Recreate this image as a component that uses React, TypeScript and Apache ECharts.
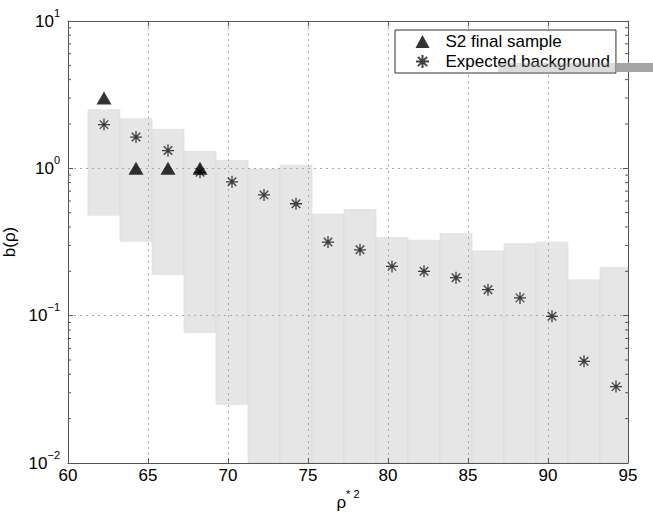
import React, { useEffect, useRef } from "react";
import * as echarts from "echarts";

// Bin centres (rho*^2) and the expected-background band per bin
const binCenters = [62.25, 64.25, 66.25, 68.25, 70.25, 72.25, 74.25, 76.25, 78.25, 80.25, 82.25, 84.25, 86.25, 88.25, 90.25, 92.25, 94.25];
const bandTop = [2.5, 2.17, 1.84, 1.3, 1.13, 0.99, 1.05, 0.49, 0.525, 0.339, 0.325, 0.36, 0.275, 0.308, 0.315, 0.175, 0.212];
const bandBottom = [0.48, 0.32, 0.19, 0.077, 0.025, 0.001, 0.001, 0.001, 0.001, 0.001, 0.001, 0.001, 0.001, 0.001, 0.001, 0.001, 0.001];
const expectedBackground = [1.98, 1.63, 1.32, 0.94, 0.81, 0.66, 0.575, 0.316, 0.28, 0.216, 0.2, 0.181, 0.15, 0.132, 0.099, 0.049, 0.033];
// S2 final sample
const sampleX = [62.25, 64.25, 66.25, 68.25];
const sampleY = [3, 1, 1, 1];
// Axis settings
const xMin = 60;
const xMax = 95;
const xStep = 5;
const yMin = 0.01;
const yMax = 10;
const binWidth = 2;
const minorTicks: number[] = [];
for (const dec of [0.01, 0.1, 1]) {
  for (let m = 2; m <= 9; m++) minorTicks.push(+(m * dec).toPrecision(3));
}

const FONT = "'Liberation Sans', Arial, Helvetica, sans-serif";
const AXIS = "#555555";
const GRIDC = "#a8a8a8";
const STAR = "path://M0,-10L0,10M-10,0L10,0M-7.07,-7.07L7.07,7.07M-7.07,7.07L7.07,-7.07";

export default function App() {
  const ref = useRef<HTMLDivElement>(null);
  useEffect(() => {
    if (!ref.current) return;
    const chart = echarts.init(ref.current, undefined, { renderer: "svg" });
    const expLabel = (v: number) => {
      const e = Math.round(Math.log10(v));
      return `{b|10}{s|${e < 0 ? "\u2212" + -e : e}}`;
    };
    const rich = {
      b: { fontSize: 17, fontFamily: FONT, color: "#000", lineHeight: 28 },
      s: { fontSize: 11, fontFamily: FONT, color: "#000", lineHeight: 12, verticalAlign: "top" },
    };
    chart.setOption({
      animation: false,
      backgroundColor: "#fff",
      textStyle: { fontFamily: FONT },
      grid: { left: 68, right: 25, top: 21, bottom: 49, containLabel: false, outerBoundsMode: "none" },
      legend: {
        orient: "vertical",
        left: 395,
        top: 30,
        padding: [3, 6, 3, 20],
        itemGap: 3,
        itemWidth: 14,
        itemHeight: 13,
        backgroundColor: "#fff",
        borderColor: "#333",
        borderWidth: 1,
        borderRadius: 0,
        textStyle: { fontSize: 17, fontFamily: FONT, color: "#000", padding: [0, 0, 0, 11] },
        data: [
          { name: "S2 final sample", icon: "triangle", itemStyle: { color: "#000" } },
          { name: "Expected background" },
        ],
        z: 10,
      },
      xAxis: [
        {
          type: "value",
          min: xMin,
          max: xMax,
          interval: xStep,
          position: "bottom",
          z: 3,
          axisLine: { show: true, onZero: false, lineStyle: { color: AXIS, width: 1 } },
          axisTick: { show: true, inside: true, length: 5, lineStyle: { color: AXIS } },
          axisLabel: { fontSize: 17, color: "#000", fontFamily: FONT, margin: 4 },
          splitLine: { show: true, lineStyle: { color: GRIDC, type: [2, 4], width: 1 } },
          name: "\u03c1{s|* 2}",
          nameLocation: "middle",
          nameGap: 17,
          nameTextStyle: { fontSize: 17, color: "#000", fontFamily: FONT, lineHeight: 28, rich: { s: rich.s } },
        },
        {
          type: "value",
          min: xMin,
          max: xMax,
          interval: xStep,
          position: "top",
          z: 3,
          axisLine: { show: true, onZero: false, lineStyle: { color: AXIS, width: 1 } },
          axisTick: { show: true, inside: true, length: 5, lineStyle: { color: AXIS } },
          axisLabel: { show: false },
          splitLine: { show: false },
        },
      ],
      yAxis: [
        {
          type: "log",
          logBase: 10,
          min: yMin,
          max: yMax,
          position: "left",
          z: 3,
          axisLine: { show: true, onZero: false, lineStyle: { color: AXIS, width: 1 } },
          axisTick: { show: true, inside: true, length: 5, lineStyle: { color: AXIS } },
          axisLabel: { formatter: expLabel, rich, margin: 8 },
          splitLine: { show: true, lineStyle: { color: GRIDC, type: [2, 4], width: 1 } },
          name: "b(\u03c1)",
          nameLocation: "middle",
          nameGap: 39,
          nameTextStyle: { fontSize: 17, color: "#000", fontFamily: FONT },
        },
        {
          type: "log",
          logBase: 10,
          min: yMin,
          max: yMax,
          position: "right",
          z: 3,
          axisLine: { show: true, onZero: false, lineStyle: { color: AXIS, width: 1 } },
          axisTick: { show: true, inside: true, length: 5, lineStyle: { color: AXIS } },
          axisLabel: { show: false },
          splitLine: { show: false },
        },
      ],
      graphic: [
        {
          type: "rect",
          shape: { x: 498, y: 63, width: 119, height: 9 },
          style: { fill: "#999", opacity: 0.35 },
          z: 20,
          silent: true,
        },
        {
          type: "rect",
          shape: { x: 617, y: 63, width: 36, height: 9 },
          style: { fill: "#a5a5a5" },
          z: 20,
          silent: true,
        },
      ],
      series: [
        {
          name: "band",
          type: "custom",
          z: 1,
          silent: true,
          data: binCenters.map((c, i) => [c, bandTop[i], bandBottom[i]]),
          encode: { x: 0, y: [1, 2] },
          renderItem: (params: any, api: any) => {
            const c = api.value(0);
            const p1 = api.coord([c - binWidth / 2, api.value(1)]);
            const p2 = api.coord([c + binWidth / 2, api.value(2)]);
            const cs = params.coordSys;
            const shape = echarts.graphic.clipRectByRect(
              { x: p1[0], y: p1[1], width: p2[0] - p1[0], height: p2[1] - p1[1] },
              { x: cs.x, y: cs.y, width: cs.width, height: cs.height }
            );
            if (!shape) return null;
            return { type: "rect", shape, style: { fill: "#e6e6e6", stroke: "#dadada", lineWidth: 0.6 } };
          },
        },
        {
          name: "minor",
          type: "custom",
          z: 4,
          silent: true,
          data: minorTicks.map((v) => [xMin, v]),
          encode: { x: 0, y: 1 },
          renderItem: (params: any, api: any) => {
            const y = api.coord([xMin, api.value(1)])[1];
            const cs = params.coordSys;
            const st = { stroke: AXIS, lineWidth: 1 };
            return {
              type: "group",
              children: [
                { type: "line", shape: { x1: cs.x, y1: y, x2: cs.x + 3, y2: y }, style: st },
                { type: "line", shape: { x1: cs.x + cs.width - 3, y1: y, x2: cs.x + cs.width, y2: y }, style: st },
              ],
            };
          },
        },
        {
          name: "Expected background",
          type: "scatter",
          z: 5,
          symbol: STAR,
          symbolSize: 12,
          itemStyle: { color: "transparent", borderColor: "#111", borderWidth: 1.3 },
          data: binCenters.map((c, i) => [c, expectedBackground[i]]),
        },
        {
          name: "S2 final sample",
          type: "scatter",
          z: 6,
          symbol: "triangle",
          symbolSize: [15, 13],
          itemStyle: { color: "#000" },
          data: sampleX.map((x, i) => [x, sampleY[i]]),
        },
      ],
    });
    return () => chart.dispose();
  }, []);
  return <div ref={ref} style={{ position: "fixed", left: 0, top: 0, width: 653, height: 512 }} />;
}
